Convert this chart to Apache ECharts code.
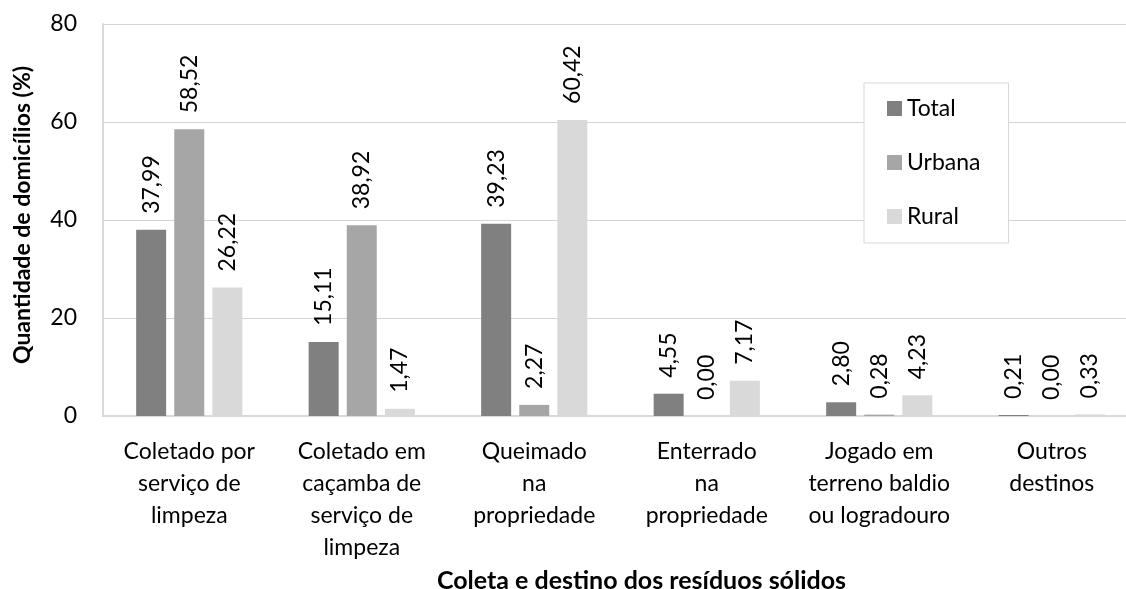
<!DOCTYPE html>
<html>
<head>
<meta charset="utf-8">
<script src="https://cdn.jsdelivr.net/npm/echarts@6/dist/echarts.min.js"></script>
<style>
  html, body { margin: 0; padding: 0; background: #fff; }
  #chart { width: 1126px; height: 589px; }
</style>
</head>
<body>
<div id="chart"></div>
<script>
const categories = [
  'Coletado por\nserviço de\nlimpeza',
  'Coletado em\ncaçamba de\nserviço de\nlimpeza',
  'Queimado\nna\npropriedade',
  'Enterrado\nna\npropriedade',
  'Jogado em\nterreno baldio\nou logradouro',
  'Outros\ndestinos'
];
const totalValues = [37.99, 15.11, 39.23, 4.55, 2.80, 0.21];
const urbanaValues = [58.52, 38.92, 2.27, 0.00, 0.28, 0.00];
const ruralValues = [26.22, 1.47, 60.42, 7.17, 4.23, 0.33];
const yTicks = [0, 20, 40, 60, 80];

const FONT = 'Lato';

const valueLabel = {
  show: true,
  position: 'top',
  rotate: 90,
  align: 'left',
  verticalAlign: 'middle',
  distance: 16,
  color: '#000',
  fontFamily: FONT,
  fontSize: 23,
  formatter: (p) => p.value.toFixed(2).replace('.', ',')
};

const makeSeries = (name, data, color) => ({
  name: name,
  type: 'bar',
  data: data,
  barWidth: 30,
  barGap: '27%',
  itemStyle: { color: color },
  label: valueLabel
});

const chart = echarts.init(document.getElementById('chart'), null, { renderer: 'canvas' });

chart.setOption({
  animation: false,
  backgroundColor: '#fff',
  grid: {
    left: 103,
    top: 24,
    width: 1035,
    height: 392,
    containLabel: false,
    outerBoundsMode: 'none'
  },
  legend: {
    orient: 'vertical',
    left: 864,
    top: 83,
    padding: [14, 28, 15, 23],
    itemGap: 31,
    itemWidth: 15,
    itemHeight: 15,
    itemTextGap: 7,
    icon: 'rect',
    backgroundColor: '#fff',
    borderColor: '#d9d9d9',
    borderWidth: 1,
    textStyle: { fontFamily: FONT, fontSize: 23, color: '#000' },
    data: ['Total', 'Urbana', 'Rural']
  },
  xAxis: {
    type: 'category',
    data: categories,
    name: 'Coleta e destino dos resíduos sólidos',
    nameLocation: 'middle',
    nameGap: 149,
    nameTextStyle: {
      fontFamily: FONT,
      fontSize: 25,
      fontWeight: 'bold',
      color: '#000',
      padding: [0, 0, 0, 42]
    },
    axisLine: { show: true, lineStyle: { color: '#d9d9d9', width: 2 } },
    axisTick: { show: false },
    axisLabel: {
      interval: 0,
      margin: 20,
      fontFamily: FONT,
      fontSize: 23,
      lineHeight: 32,
      color: '#000'
    }
  },
  yAxis: {
    type: 'value',
    min: yTicks[0],
    max: yTicks[yTicks.length - 1],
    interval: yTicks[1] - yTicks[0],
    name: 'Quantidade de domicílios (%)',
    nameLocation: 'middle',
    nameGap: 69,
    nameTextStyle: {
      fontFamily: FONT,
      fontSize: 23,
      fontWeight: 'bold',
      color: '#000',
      padding: [0, 0, 0, 10]
    },
    axisLine: { show: true, lineStyle: { color: '#d9d9d9', width: 2 } },
    axisTick: { show: false },
    axisLabel: {
      margin: 26,
      fontFamily: FONT,
      fontSize: 23,
      color: '#000'
    },
    splitLine: { lineStyle: { color: '#d4d4d4', width: 1 } }
  },
  series: [
    makeSeries('Total', totalValues, '#808080'),
    makeSeries('Urbana', urbanaValues, '#a6a6a6'),
    makeSeries('Rural', ruralValues, '#d9d9d9')
  ]
});
</script>
</body>
</html>
